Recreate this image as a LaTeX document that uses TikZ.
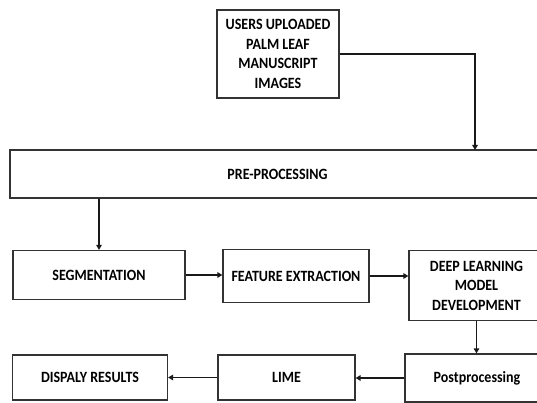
\documentclass[tikz,border=0pt]{standalone}
\usepackage{graphicx}
\usepackage{fontspec}
\setmainfont{Carlito}
\usetikzlibrary{arrows.meta}
% slightly condensed-looking bold labels: stretch each line vertically
\newcommand{\tline}[1]{\scalebox{1}[1.12]{#1}}
\begin{document}
\begin{tikzpicture}[x=1pt,y=-1pt,
  box/.style={draw=black!80, line width=1.2pt, align=center, inner sep=0pt,
    font=\bfseries\fontsize{14}{19.5}\selectfont},
  flow/.style={draw=black!90, line width=1.8pt, -{Triangle[length=5pt,width=5.5pt]}}]
\clip (0,0) rectangle (537,403);
\fill[white] (0,0) rectangle (537,403);

% blocks
\node[box, minimum width=122, minimum height=88] (users) at (278,54)
  {\tline{USERS UPLOADED}\\\tline{PALM LEAF}\\\tline{MANUSCRIPT}\\\tline{IMAGES}};
\node[box, minimum width=535, minimum height=48] (pre) at (277.5,174) {\tline{PRE-PROCESSING}};
\node[box, minimum width=172, minimum height=49] (seg) at (99,275) {\tline{SEGMENTATION}};
\node[box, minimum width=146, minimum height=53] (feat) at (296,276) {\tline{FEATURE EXTRACTION}};
\node[box, minimum width=135, minimum height=70] (deep) at (476.5,285.5)
  {\tline{DEEP LEARNING}\\\tline{MODEL}\\\tline{DEVELOPMENT}};
\node[box, minimum width=144, minimum height=48] (post) at (477,378) {\tline{Postprocessing}};
\node[box, minimum width=137, minimum height=45] (lime) at (286.5,377.5) {\tline{LIME}};
\node[box, minimum width=155, minimum height=45] (disp) at (90,377.5) {\tline{DISPALY RESULTS}};

% connectors
\coordinate (preIn) at (475,150);
\draw[flow] (users.east) -| (preIn);
\draw[flow] (seg.north |- pre.south) -- (seg.north);
\draw[flow] (seg.east) -- (seg.east -| feat.west);
\draw[flow] (feat.east) -- (feat.east -| deep.west);
\draw[flow] (deep.south) -- (deep.south |- post.north);
\draw[flow] (post.west) -- (post.west -| lime.east);
\draw[flow] (lime.west) -- (lime.west -| disp.east);
\end{tikzpicture}
\end{document}
